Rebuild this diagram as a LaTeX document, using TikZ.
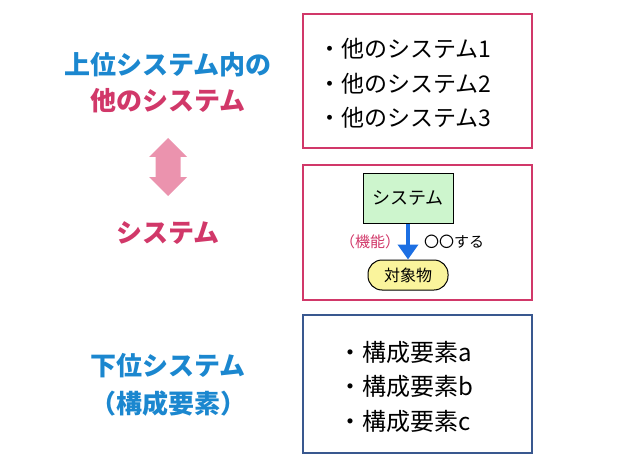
\documentclass[tikz,border=0pt]{standalone}
\usepackage{fontspec}
\setmainfont{Noto Sans CJK JP}
\usetikzlibrary{positioning, arrows.meta, calc}

\definecolor{upblue}{HTML}{1B87CF}
\definecolor{crimson}{HTML}{D13869}
\definecolor{softpink}{HTML}{EB93AE}
\definecolor{navyline}{HTML}{39588F}
\definecolor{boxgreen}{HTML}{CDF5CD}
\definecolor{pillyellow}{HTML}{FAF49C}
\definecolor{funcblue}{HTML}{1C6FE3}

\begin{document}
\begin{tikzpicture}[x=1pt, y=-1pt,
    frame/.style={draw=#1, line width=2.6pt},
    lbl/.style={font=\fontsize{26}{30}\selectfont\bfseries, inner sep=0pt},
    item/.style={font=\fontsize{#1}{26}\selectfont, anchor=west, inner sep=0pt},
    small/.style={font=\fontsize{#1}{20}\selectfont, inner sep=0pt}
    ]

    % Canvas
    \useasboundingbox (0,0) rectangle (620,465);

    % Left labels
    \node[lbl, text=upblue] (upper) at (168,65) {上位システム内の};
    \node[lbl, text=crimson] (other) at (168,101) {他のシステム};
    \node[lbl, text=crimson] (sys) at (168,233) {システム};
    \node[lbl, text=upblue] (lower) at (168,366) {下位システム};
    \node[lbl, text=upblue] (parts) at (168,404) {（構成要素）};

    % Pink double arrow between the two levels
    \coordinate (link) at ($(other)!0.5!(sys)$);
    \fill[softpink] (link) ++(0,-29) -- ++(19,19) -- ++(-6.5,0) -- ++(0,20)
        -- ++(6.5,0) -- ++(-19,19) -- ++(-19,-19) -- ++(6.5,0) -- ++(0,-20)
        -- ++(-6.5,0) -- cycle;

    % Frames
    \draw[frame=crimson] (303,14) rectangle (532,148);
    \draw[frame=crimson] (303,165) rectangle (532,300);
    \draw[frame=navyline] (303,315) rectangle (532,453);

    % Other systems
    \foreach \i/\y in {1/49, 2/84, 3/118}
        \node[item=23] (other-\i) at (318,\y) {・他のシステム\i};

    % Components
    \foreach \c/\y in {a/352, b/386, c/421}
        \node[item=24] (part-\c) at (338,\y) {・構成要素\c};

    % System and its object
    \node[draw, fill=boxgreen, line width=1pt, minimum width=90pt, minimum height=50pt,
        small=18] (core) at (408,198) {システム};
    \node[draw, fill=pillyellow, line width=1pt, rounded corners=14pt,
        minimum width=80pt, minimum height=30pt, small=16] (target) at (408,275) {対象物};
    \draw[funcblue, line width=4pt, -{Triangle[width=20pt,length=15pt]}] (core) -- (target);

    \node[small=15, text=crimson] (func) at (370,242) {（機能）};
    \node[small=15] (act) at (454,242) {〇〇する};

\end{tikzpicture}
\end{document}
